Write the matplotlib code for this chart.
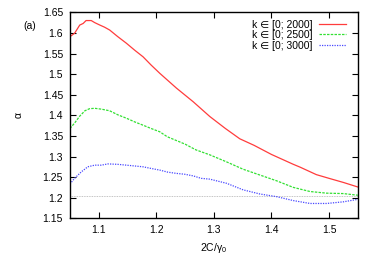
import numpy as np
import matplotlib
matplotlib.use('Agg')
import matplotlib.pyplot as plt

plt.rcParams['font.family'] = ['Liberation Sans', 'DejaVu Sans']
plt.rcParams['mathtext.fontset'] = 'custom'
plt.rcParams['mathtext.rm'] = 'Liberation Sans'
plt.rcParams['mathtext.it'] = 'Liberation Sans'

# values
x_red = [1.05, 1.058, 1.067, 1.073, 1.078, 1.087, 1.093, 1.102, 1.110, 1.119,
         1.133, 1.148, 1.1625, 1.177, 1.191, 1.206, 1.235, 1.264, 1.293,
         1.32, 1.345, 1.37, 1.40, 1.438, 1.45, 1.478, 1.50, 1.525, 1.55]
y_red = [1.591, 1.599, 1.619, 1.623, 1.630, 1.630, 1.625, 1.619, 1.614, 1.607,
         1.591, 1.575, 1.558, 1.542, 1.522, 1.502, 1.466, 1.433, 1.397,
         1.368, 1.343, 1.327, 1.305, 1.281, 1.274, 1.256, 1.247, 1.237, 1.226]

x_green = [1.05, 1.058, 1.067, 1.076, 1.084, 1.093, 1.1045, 1.119, 1.1335,
           1.148, 1.1625, 1.177, 1.191, 1.206, 1.219, 1.25, 1.269, 1.293,
           1.322, 1.351, 1.38, 1.409, 1.438, 1.467, 1.496, 1.525, 1.55]
y_green = [1.368, 1.381, 1.398, 1.411, 1.416, 1.417, 1.415, 1.411, 1.401,
           1.393, 1.384, 1.376, 1.368, 1.360, 1.348, 1.330, 1.316, 1.304,
           1.287, 1.269, 1.255, 1.241, 1.225, 1.215, 1.211, 1.210, 1.206]

x_blue = [1.05, 1.058, 1.07, 1.081, 1.093, 1.1045, 1.116, 1.133, 1.148,
          1.1625, 1.177, 1.191, 1.206, 1.22, 1.235, 1.249, 1.264, 1.278,
          1.293, 1.322, 1.351, 1.38, 1.409, 1.438, 1.467, 1.496, 1.525, 1.55]
y_blue = [1.233, 1.247, 1.263, 1.275, 1.279, 1.279, 1.282, 1.281, 1.279,
          1.277, 1.275, 1.271, 1.267, 1.262, 1.259, 1.257, 1.253, 1.247,
          1.245, 1.235, 1.219, 1.209, 1.2025, 1.193, 1.186, 1.186, 1.190, 1.196]

labels = ['k \u2208 [0; 2000]', 'k \u2208 [0; 2500]', 'k \u2208 [0; 3000]']
ref_level = 1.205

fig = plt.figure(figsize=(3.74, 2.62), dpi=100)
ax = fig.add_axes([0.187, 0.1668, 0.7697, 0.7862])

ax.axhline(ref_level, color='#b0b0b0', lw=0.6, ls=(0, (1, 1)))
ax.plot(x_red, y_red, color='#ff3c3c', lw=0.9, label=labels[0])
ax.plot(x_green, y_green, color='#33e033', lw=0.9, ls=(0, (2, 1)), label=labels[1])
ax.plot(x_blue, y_blue, color='#4848ff', lw=0.9, ls=(0, (1, 1)), label=labels[2])

ax.set_xlim(1.05, 1.55)
ax.set_ylim(1.15, 1.65)
ax.set_xticks([1.1, 1.2, 1.3, 1.4, 1.5])
ax.set_yticks(np.arange(1.15, 1.651, 0.05))
ax.set_yticklabels(['1.15', '1.2', '1.25', '1.3', '1.35', '1.4', '1.45',
                    '1.5', '1.55', '1.6', '1.65'])
ax.tick_params(direction='in', top=True, right=True, length=4, width=0.8,
               labelsize=7.5, pad=5)
for s in ax.spines.values():
    s.set_linewidth(1.0)

ax.set_xlabel('2C/$\\gamma_0$', fontsize=7.5, labelpad=4)
ax.set_ylabel('\u03b1', fontsize=7.5, labelpad=14)
fig.text(0.062, 0.89, '(a)', fontsize=7.5)

leg = ax.legend(loc='upper right', frameon=False, markerfirst=False,
                fontsize=7.5, handlelength=2.6, handletextpad=0.6,
                labelspacing=0.05, borderaxespad=0.3,
                bbox_to_anchor=(0.985, 1.0))

fig.savefig('out.png', dpi=100)
